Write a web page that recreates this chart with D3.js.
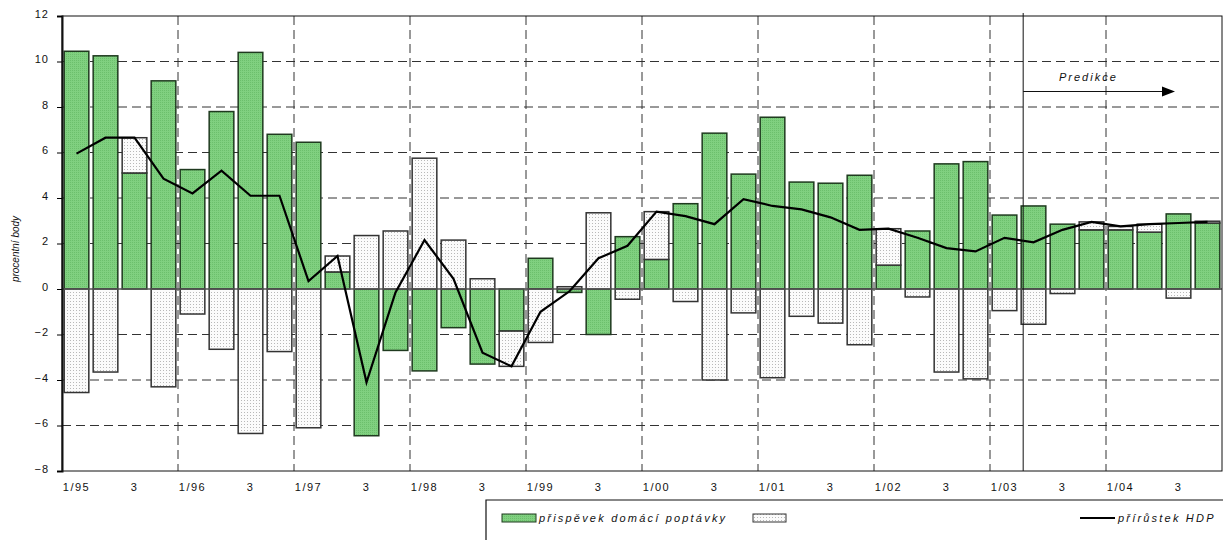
<!DOCTYPE html>
<html>
<head>
<meta charset="utf-8">
<script src="https://cdn.jsdelivr.net/npm/d3@7"></script>
<style>
  body { margin: 0; background: #fff; }
  text { font-family: "Liberation Sans", Arial, sans-serif; fill: #111; }
</style>
</head>
<body>
<svg id="chart" width="1223" height="540"></svg>
<script>
// ctvrtleti 1/95 .. 4/04
var quarters = [];
var years = ["95","96","97","98","99","00","01","02","03","04"];
years.forEach(function (y) { for (var q = 1; q <= 4; q++) quarters.push(q + "/" + y); });

// popisky osy x (jen 1. a 3. ctvrtleti)
var tickLabels = quarters.map(function (q) {
  var p = q.split("/");
  return p[0] == "1" ? q : (p[0] == "3" ? "3" : "");
});

// prispevek domaci poptavky (zelene sloupce)
var domestic = [10.45, 10.25, 5.1, 9.15, 5.25, 7.8, 10.4, 6.8,
                6.45, 0.75, -6.45, -2.7, -3.6, -1.7, -3.3, -1.85,
                1.35, -0.15, -2.0, 2.3, 1.3, 3.75, 6.85, 5.05,
                7.55, 4.7, 4.65, 5.0, 1.05, 2.55, 5.5, 5.6,
                3.25, 3.65, 2.85, 2.6, 2.6, 2.5, 3.3, 2.9];
// druha rada (teckovane sloupce, bez nazvu v legende)
var external = [-4.55, -3.65, 1.55, -4.3, -1.1, -2.65, -6.35, -2.75,
                -6.1, 0.7, 2.35, 2.55, 5.75, 2.15, 0.45, -1.55,
                -2.35, 0.1, 3.35, -0.45, 2.1, -0.55, -4.0, -1.05,
                -3.9, -1.2, -1.5, -2.45, 1.6, -0.35, -3.65, -3.95,
                -0.95, -1.55, -0.2, 0.35, 0.15, 0.35, -0.4, 0.08];
// prirustek HDP (cara)
var gdp = [5.95, 6.65, 6.65, 4.85, 4.2, 5.2, 4.1, 4.1,
           0.35, 1.45, -4.1, -0.15, 2.15, 0.45, -2.8, -3.4,
           -1.0, -0.1, 1.35, 1.9, 3.4, 3.2, 2.85, 3.95,
           3.65, 3.5, 3.15, 2.6, 2.65, 2.25, 1.8, 1.65,
           2.25, 2.05, 2.6, 2.95, 2.75, 2.85, 2.9, 2.95];

var yTicks = [-8, -6, -4, -2, 0, 2, 4, 6, 8, 10, 12];

var svg = d3.select("#chart");
var pLeft = 62, pRight = 1222, pTop = 16, pBottom = 471;

var x = d3.scaleBand().domain(quarters).range([pLeft, pRight])
          .paddingInner(0.15).paddingOuter(0.075);
var y = d3.scaleLinear().domain([-8, 12]).range([pBottom, pTop]);
var gap = x.step() - x.bandwidth();

// vzory vyplne
var defs = svg.append("defs");
var dots = defs.append("pattern").attr("id", "dots").attr("patternUnits", "userSpaceOnUse")
  .attr("width", 3).attr("height", 3);
dots.append("rect").attr("width", 3).attr("height", 3).attr("fill", "#fbfbfb");
dots.append("rect").attr("x", 1).attr("y", 1).attr("width", 1).attr("height", 1).attr("fill", "#b8b8b8");
var green = defs.append("pattern").attr("id", "green").attr("patternUnits", "userSpaceOnUse")
  .attr("width", 2).attr("height", 2);
green.append("rect").attr("width", 2).attr("height", 2).attr("fill", "#80d080");
green.append("rect").attr("width", 1).attr("height", 1).attr("fill", "#6cbf6c");

// mrizka
svg.append("g").selectAll("line").data(yTicks.filter(function (d) { return d != 0 && d != -8 && d != 12; }))
  .enter().append("line")
  .attr("x1", pLeft).attr("x2", pRight)
  .attr("y1", function (d) { return y(d); }).attr("y2", function (d) { return y(d); })
  .attr("stroke", "#333").attr("stroke-width", 1).attr("stroke-dasharray", "9,5");

svg.append("g").selectAll("line").data(quarters.filter(function (q, i) { return i > 0 && q[0] == "1"; }))
  .enter().append("line")
  .attr("x1", function (q) { return x(q) - gap / 2; }).attr("x2", function (q) { return x(q) - gap / 2; })
  .attr("y1", pTop).attr("y2", pBottom)
  .attr("stroke", "#333").attr("stroke-width", 1).attr("stroke-dasharray", "9,5");

// sloupce - skladane jako v Excelu (kladne nahoru, zaporne dolu)
var rows = quarters.map(function (q, i) { return { q: q, dom: domestic[i], ext: external[i] }; });
var series = d3.stack().keys(["dom", "ext"]).offset(d3.stackOffsetDiverging)(rows);

svg.append("g").selectAll("g").data(series).enter().append("g")
  .attr("fill", function (s) { return s.key == "dom" ? "url(#green)" : "url(#dots)"; })
  .attr("stroke", function (s) { return s.key == "dom" ? "#1f3a1f" : "#333"; })
  .attr("stroke-width", 1.5)
  .selectAll("rect").data(function (s) { return s; }).enter().append("rect")
  .attr("x", function (d) { return x(d.data.q); })
  .attr("width", x.bandwidth())
  .attr("y", function (d) { return y(Math.max(d[0], d[1])); })
  .attr("height", function (d) { return Math.abs(y(d[0]) - y(d[1])); });

// nulova osa
svg.append("line").attr("x1", pLeft).attr("x2", pRight).attr("y1", y(0)).attr("y2", y(0))
  .attr("stroke", "#555").attr("stroke-width", 1.5);

// ramecek
svg.append("rect").attr("x", pLeft).attr("y", pTop).attr("width", pRight - pLeft).attr("height", pBottom - pTop)
  .attr("fill", "none").attr("stroke", "#111").attr("stroke-width", 1);

// osa y
var yAxis = svg.append("g").attr("transform", "translate(" + pLeft + ",0)")
  .call(d3.axisLeft(y).tickValues(yTicks).tickSize(5).tickPadding(8));
yAxis.select(".domain").attr("stroke", "#111").attr("stroke-width", 2);
yAxis.selectAll("text").attr("font-size", 11).attr("letter-spacing", 1).attr("dy", "0.1em")
  .attr("font-family", "Liberation Sans, Arial, sans-serif");

// osa x - jen popisky
svg.append("g").selectAll("text").data(quarters).enter().append("text")
  .attr("x", function (q) { return x(q) + x.bandwidth() / 2; })
  .attr("y", 491)
  .attr("text-anchor", "middle").attr("font-size", 11).attr("letter-spacing", 1.5)
  .text(function (q, i) { return tickLabels[i]; });

// cara HDP
var line = d3.line().x(function (d, i) { return x(quarters[i]) + x.bandwidth() / 2; })
  .y(function (d) { return y(d); });
svg.append("path").datum(gdp).attr("d", line)
  .attr("fill", "none").attr("stroke", "#000").attr("stroke-width", 2.2);

// predikce
var px = x("2/03") + 2;
svg.append("line").attr("x1", px).attr("x2", px).attr("y1", 13).attr("y2", pBottom)
  .attr("stroke", "#111").attr("stroke-width", 1);
svg.append("line").attr("x1", px).attr("x2", 1163).attr("y1", 91.5).attr("y2", 91.5)
  .attr("stroke", "#111").attr("stroke-width", 1);
svg.append("path").attr("d", "M1162,86.5 L1175,91.5 L1162,96.5 Z").attr("fill", "#000");
svg.append("text").attr("x", 1059).attr("y", 81).attr("font-size", 11).attr("font-style", "italic")
  .attr("letter-spacing", 2).text("Predikce");

// popisek osy y
svg.append("text").attr("transform", "translate(19,249) rotate(-90)")
  .attr("text-anchor", "middle").attr("font-size", 10).attr("font-style", "italic")
  .text("procentní body");

// legenda
var lg = svg.append("g");
lg.append("path").attr("d", "M486,540 L486,500 L1223,500").attr("fill", "none")
  .attr("stroke", "#111").attr("stroke-width", 1.2);
lg.append("rect").attr("x", 502).attr("y", 514).attr("width", 34).attr("height", 8)
  .attr("fill", "url(#green)").attr("stroke", "#1f3a1f").attr("stroke-width", 1);
lg.append("text").attr("x", 539).attr("y", 522).attr("font-size", 11).attr("font-style", "italic")
  .attr("letter-spacing", 2.2).text("přispěvek domácí poptávky");
lg.append("rect").attr("x", 753).attr("y", 514).attr("width", 33).attr("height", 8)
  .attr("fill", "url(#dots)").attr("stroke", "#333").attr("stroke-width", 1);
lg.append("line").attr("x1", 1080).attr("x2", 1115).attr("y1", 518).attr("y2", 518)
  .attr("stroke", "#000").attr("stroke-width", 2);
lg.append("text").attr("x", 1118).attr("y", 522).attr("font-size", 11).attr("font-style", "italic")
  .attr("letter-spacing", 2.2).text("přírůstek HDP");
</script>
</body>
</html>
